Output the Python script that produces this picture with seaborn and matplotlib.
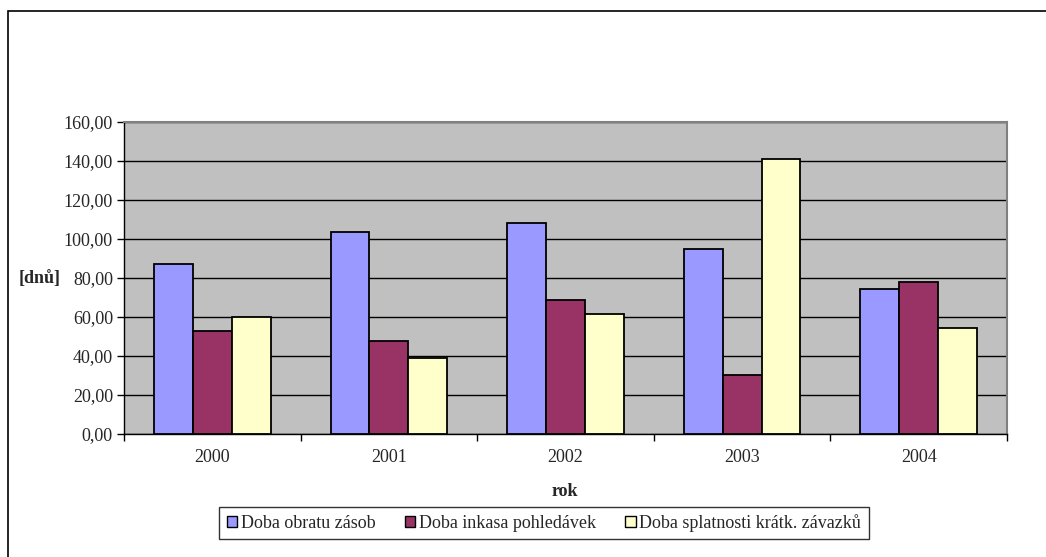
import pandas as pd
import matplotlib.pyplot as plt
import seaborn as sns
from matplotlib.patches import Rectangle

roky = ['2000', '2001', '2002', '2003', '2004']
serie = ['Doba obratu zásob', 'Doba inkasa pohledávek', 'Doba splatnosti krátk. závazků']
obrat_zasob = [87.3, 103.4, 108.0, 94.8, 74.3]
inkaso_pohledavek = [53.0, 47.6, 68.8, 30.5, 77.9]
splatnost_zavazku = [60.2, 38.8, 61.6, 141.2, 54.4]
cores = ['#9999FF', '#993366', '#FFFFCC']

df = pd.DataFrame({
    'rok': roky * 3,
    'serie': [serie[0]] * 5 + [serie[1]] * 5 + [serie[2]] * 5,
    'dny': obrat_zasob + inkaso_pohledavek + splatnost_zavazku,
})

sns.set_style('white')
plt.rcParams['font.family'] = ['Liberation Serif', 'DejaVu Serif']
fs = 13

fig = plt.figure(figsize=(10.46, 5.57), dpi=100)
ax = fig.add_axes([124 / 1046, 1 - 434 / 557, (1007 - 124) / 1046, (434 - 122) / 557])

sns.barplot(data=df, x='rok', y='dny', hue='serie', hue_order=serie, palette=cores,
            width=0.66, gap=0, edgecolor='black', linewidth=1.3, saturation=1,
            legend=False, ax=ax, zorder=3)

ax.set_facecolor('#C0C0C0')
ax.set_ylim(0, 160)
ax.set_xlim(-0.5, 4.5)
ax.set_yticks(range(0, 161, 20))
ax.set_yticklabels([f'{v},00' for v in range(0, 161, 20)])
ax.yaxis.grid(True, color='black', linewidth=1, zorder=0)
ax.set_axisbelow(True)
ax.tick_params(axis='y', direction='out', length=5, width=1, color='black', labelsize=fs, pad=3, left=True)
ax.tick_params(axis='x', which='major', length=0, labelsize=fs, pad=11)
ax.set_xticks([i + 0.5 for i in range(-1, 5)], minor=True)
ax.tick_params(axis='x', which='minor', direction='out', length=5, width=1, color='black', bottom=True)

for s in ['left', 'bottom']:
    ax.spines[s].set_color('black')
    ax.spines[s].set_linewidth(1)
for s in ['top', 'right']:
    ax.spines[s].set_color('#808080')
    ax.spines[s].set_linewidth(1.5)

ax.set_xlabel('')
ax.set_ylabel('')
fig.text(40 / 1046, 1 - 278 / 557, '[dnů]', fontsize=fs, fontweight='bold', ha='center', va='center')
fig.text(565 / 1046, 1 - 492 / 557, 'rok', fontsize=fs, fontweight='bold', ha='center', va='center')

handles = [Rectangle((0, 0), 1, 1, facecolor=c, edgecolor='black', linewidth=1) for c in cores]
leg = fig.legend(handles, serie, loc='center', bbox_to_anchor=(544 / 1046, 1 - 523 / 557), ncol=3,
                 fontsize=fs, frameon=True, fancybox=False, handlelength=0.6, handleheight=0.6,
                 handletextpad=0.2, columnspacing=1.6, borderpad=0.4)
leg.get_frame().set_edgecolor('black')
leg.get_frame().set_linewidth(1)

fig.patches.append(Rectangle((8 / 1046, -0.1), 1.2, 1 - 11 / 557 + 0.1, transform=fig.transFigure,
                             fill=False, edgecolor='black', linewidth=1.2))

fig.savefig('out.png', dpi=100, facecolor='white')
plt.close(fig)
